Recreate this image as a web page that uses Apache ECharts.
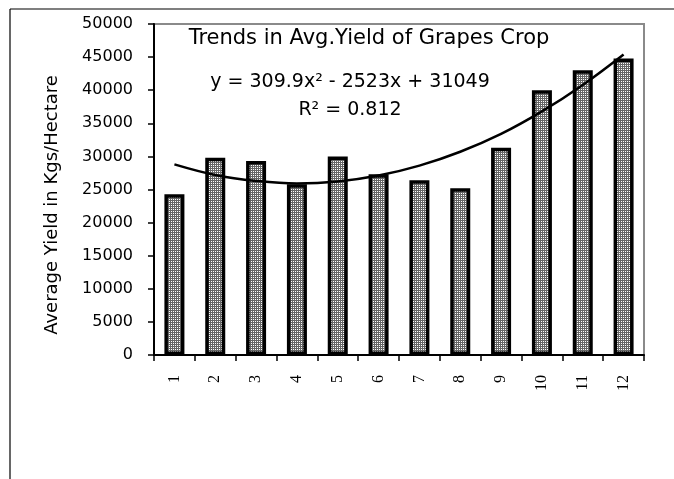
<!DOCTYPE html>
<html>
<head>
<meta charset="utf-8">
<script src="https://cdn.jsdelivr.net/npm/echarts@6/dist/echarts.min.js"></script>
<style>html,body{margin:0;padding:0;background:#fff;}#c{width:674px;height:479px;}</style>
</head>
<body>
<div id="c"></div>
<script>
const categories = ['1','2','3','4','5','6','7','8','9','10','11','12'];
const yieldValues = [24300, 29800, 29300, 25800, 30000, 27300, 26400, 25200, 31300, 40000, 43000, 44800];
const trendValues = [28800, 27200, 26300, 25900, 26200, 27100, 28600, 30700, 33400, 36800, 40800, 45400];
const yTicks = { min: 0, max: 50000, interval: 5000 };
const titleText = 'Trends in Avg.Yield of Grapes Crop';
const equationText = 'y = 309.9x\u00b2 - 2523x + 31049';
const r2Text = 'R\u00b2 = 0.812';
const yAxisTitle = 'Average Yield in Kgs/Hectare';

const pc = document.createElement('canvas');
pc.width = 2; pc.height = 2;
const pctx = pc.getContext('2d');
pctx.fillStyle = '#666666'; pctx.fillRect(0,0,2,2);
pctx.fillStyle = '#ffffff'; pctx.fillRect(1,1,1,1);

const chart = echarts.init(document.getElementById('c'), null, {renderer:'canvas'});
chart.setOption({
  animation: false,
  backgroundColor: '#fff',
  grid: { left: 154, right: 30, top: 24, bottom: 124, show: true, borderColor: '#8a8a8a', borderWidth: 2, backgroundColor: 'transparent' },
  xAxis: {
    type: 'category', data: categories,
    axisLine: { lineStyle: { color: '#000', width: 2 } },
    axisTick: { show: true, length: 6, lineStyle: { color: '#000', width: 1.5 } },
    axisLabel: { rotate: 90, interval: 0, margin: 20, fontFamily: 'Liberation Serif', fontSize: 16, color: '#000' },
    splitLine: { show: false }
  },
  yAxis: {
    type: 'value', min: yTicks.min, max: yTicks.max, interval: yTicks.interval,
    axisLine: { show: true, lineStyle: { color: '#000', width: 2 } },
    axisTick: { show: true, length: 6, lineStyle: { color: '#000', width: 1.5 } },
    axisLabel: { margin: 21, fontFamily: 'DejaVu Sans', fontSize: 16, color: '#000', formatter: function (v) { return String(v); } },
    splitLine: { show: false }
  },
  series: [
    { type: 'bar', data: yieldValues, barWidth: 20,
      itemStyle: { color: { image: pc, repeat: 'repeat' }, borderColor: '#000', borderWidth: 3.5 } },
    { type: 'line', data: trendValues, smooth: 0.4, symbol: 'none', z: 5,
      lineStyle: { color: '#000', width: 2.5 } }
  ],
  graphic: [
    { type: 'line', shape: { x1: 10, y1: 9, x2: 674, y2: 9 }, style: { stroke: '#000', lineWidth: 1.2 } },
    { type: 'line', shape: { x1: 10, y1: 9, x2: 10, y2: 479 }, style: { stroke: '#000', lineWidth: 1.2 } },
    { type: 'text', x: 369, y: 39, style: { text: titleText, font: '21px "DejaVu Sans"', fill: '#000', align: 'center', verticalAlign: 'middle' } },
    { type: 'text', x: 350, y: 82, style: { text: equationText, font: '19px "DejaVu Sans"', fill: '#000', align: 'center', verticalAlign: 'middle' } },
    { type: 'text', x: 350, y: 110, style: { text: r2Text, font: '19px "DejaVu Sans"', fill: '#000', align: 'center', verticalAlign: 'middle' } },
    { type: 'text', x: 52, y: 205, rotation: Math.PI/2, style: { text: yAxisTitle, font: '18px "DejaVu Sans"', fill: '#000', align: 'center', verticalAlign: 'middle' } }
  ]
});
</script>
</body>
</html>
